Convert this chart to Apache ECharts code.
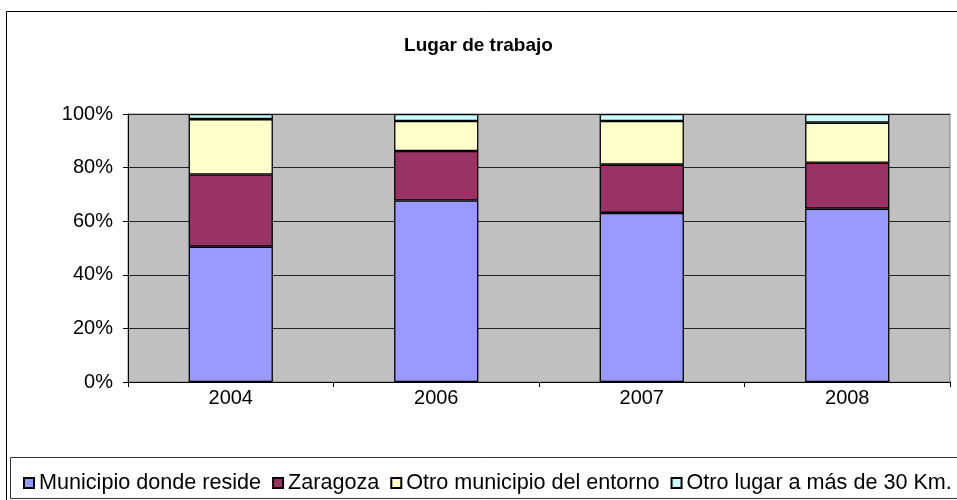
<!DOCTYPE html>
<html>
<head>
<meta charset="utf-8">
<script src="https://cdn.jsdelivr.net/npm/echarts@6/dist/echarts.min.js"></script>
<style>
html, body { margin: 0; padding: 0; background: #fff; }
#main { width: 957px; height: 500px; }
</style>
</head>
<body>
<div id="main"></div>
<script>
var years = ['2004', '2006', '2007', '2008'];
var seriesNames = ['Municipio donde reside', 'Zaragoza', 'Otro municipio del entorno', 'Otro lugar a más de 30 Km.'];
var municipio = [50.5, 67.7, 63.1, 64.7];
var zaragoza = [26.9, 18.5, 18.0, 17.1];
var entorno = [20.7, 11.2, 16.3, 15.0];
var otroLugar = [1.9, 2.6, 2.6, 3.2];
var colors = ['#9999ff', '#993366', '#ffffcc', '#ccffff'];

var myChart = echarts.init(document.getElementById('main'));

function barSeries(name, data, color) {
	return {
		name: name,
		type: 'bar',
		stack: 'total',
		barWidth: '41%',
		data: data,
		itemStyle: {
			color: color,
			borderColor: '#000',
			borderWidth: 1.3
		}
	};
}

option = {
	animation: false,
	textStyle: {
		fontFamily: 'Liberation Sans, Arial, sans-serif'
	},
	title: {
		text: 'Lugar de trabajo',
		left: 'center',
		top: 31,
		textStyle: {
			fontSize: 19,
			fontWeight: 'bold',
			color: '#000'
		}
	},
	graphic: [{
		type: 'rect',
		shape: { x: 6.5, y: 11.5, width: 960, height: 500 },
		style: { fill: 'none', stroke: '#000', lineWidth: 1 },
		z: -1
	}, {
		type: 'rect',
		shape: { x: 10.5, y: 457.5, width: 960, height: 41 },
		style: { fill: '#fff', stroke: '#333', lineWidth: 1 },
		z: 0
	}],
	legend: {
		left: 18,
		top: 467,
		width: 1200,
		itemWidth: 10,
		itemHeight: 10,
		itemGap: 11,
		icon: 'rect',
		data: seriesNames,
		textStyle: {
			fontSize: 21.6,
			color: '#000'
		}
	},
	grid: {
		left: 128,
		right: 7,
		top: 114,
		bottom: 118,
		show: true,
		backgroundColor: '#c0c0c0',
		borderColor: '#808080',
		borderWidth: 1
	},
	xAxis: {
		type: 'category',
		data: years,
		axisLine: { lineStyle: { color: '#000', width: 1 } },
		axisTick: { show: true, length: 5, lineStyle: { color: '#000' } },
		axisLabel: { fontSize: 20, color: '#000', margin: 6 }
	},
	yAxis: {
		type: 'value',
		min: 0,
		max: 100,
		interval: 20,
		axisLine: { show: true, lineStyle: { color: '#000', width: 1 } },
		axisTick: { show: true, length: 5, lineStyle: { color: '#000' } },
		axisLabel: { fontSize: 20, color: '#000', margin: 15, formatter: '{value}%' },
		splitLine: { show: true, lineStyle: { color: '#222', width: 1 } }
	},
	series: [
		barSeries(seriesNames[0], municipio, colors[0]),
		barSeries(seriesNames[1], zaragoza, colors[1]),
		barSeries(seriesNames[2], entorno, colors[2]),
		barSeries(seriesNames[3], otroLugar, colors[3])
	]
};
myChart.setOption(option);
</script>
</body>
</html>
